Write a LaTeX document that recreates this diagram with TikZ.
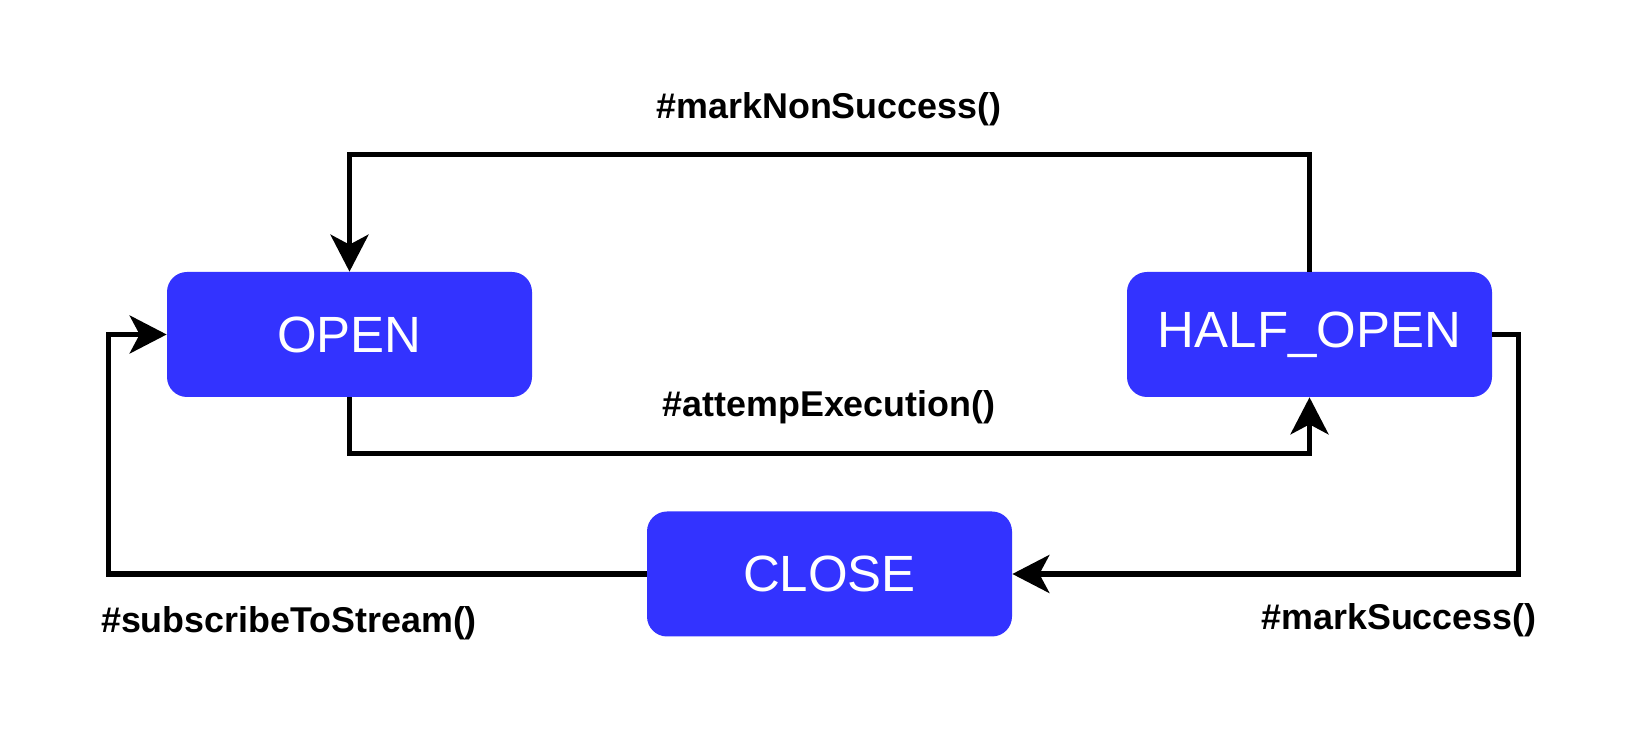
\documentclass[tikz,border=0pt]{standalone}
\usepackage{fontspec}
\setmainfont{Liberation Sans}
\usepackage{xcolor}
\usepackage{tikz}
\usetikzlibrary{positioning,arrows.meta}
\definecolor{stateblue}{HTML}{3333FF}

\begin{document}
\begin{tikzpicture}[
    state/.style={fill=stateblue, rounded corners=0.4cm, text=white, inner sep=0pt,
        minimum width=7.3cm, minimum height=2.5cm, font=\fontsize{29}{35}\selectfont},
    call/.style={font=\bfseries\fontsize{20.4}{24}\selectfont, inner sep=0pt},
    trans/.style={draw, line width=2.85pt, -{Stealth[length=0.74cm, width=0.76cm, inset=0.2cm]}}
]
\useasboundingbox (0,0) rectangle (32.82,14.58);
\node[state] (open) at (6.99,7.89) {OPEN};
\node[state] (halfopen) at (26.19,7.89) {HALF\_OPEN};
\node[state] (close) at (16.59,3.1) {CLOSE};

\node[call] (nonsuccess) at (16.58,12.4) {\#markNonSuccess()};
\node[call] (attempt) at (16.58,6.44) {\#attempExecution()};
\node[call] (subscribe) at (5.78,2.12) {\#subscribeToStream()};
\node[call] (success) at (27.98,2.18) {\#markSuccess()};

\draw[trans] (halfopen.north) -- ++(0,2.34) -| (open.north);
\draw[trans] (open.south) -- ++(0,-1.12) -| (halfopen.south);
\draw[trans] (halfopen.east) -- ++(0.52,0) |- (close.east);
\draw[trans] (close.west) -- ++(-10.76,0) |- (open.west);
\end{tikzpicture}
\end{document}
